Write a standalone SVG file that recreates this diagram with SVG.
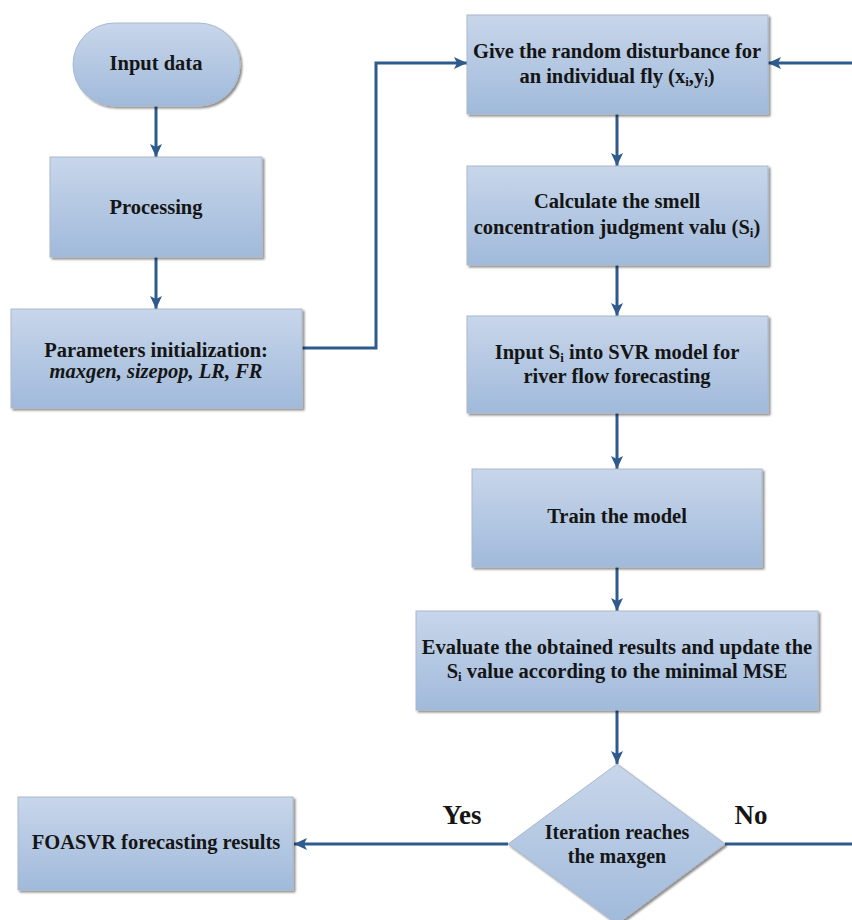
<svg xmlns="http://www.w3.org/2000/svg" width="852" height="920" viewBox="0 0 852 920">
<defs>
<linearGradient id="g" x1="0" y1="0" x2="0" y2="1">
<stop offset="0" stop-color="#c8d6ea"/>
<stop offset="1" stop-color="#a0badb"/>
</linearGradient>
<marker id="ah" markerUnits="userSpaceOnUse" markerWidth="14" markerHeight="14" viewBox="0 0 14 14" refX="13" refY="7" orient="auto">
<path d="M0,1 L13,7 L0,13 L3,7 Z" fill="#2f5a8c"/>
</marker>
<filter id="sh" x="-5%" y="-5%" width="112%" height="115%">
<feGaussianBlur in="SourceAlpha" stdDeviation="1.2"/>
<feOffset dx="2" dy="2" result="b"/>
<feComponentTransfer><feFuncA type="linear" slope="0.45"/></feComponentTransfer>
<feMerge><feMergeNode/><feMergeNode in="SourceGraphic"/></feMerge>
</filter>
</defs>
<style>
.box{fill:url(#g);stroke:#a9b8cc;stroke-width:1;filter:url(#sh)}
.t{font-family:"Liberation Serif","Times New Roman",serif;font-weight:bold;font-size:20.5px;fill:#151515;text-anchor:middle}
.it{font-style:italic}
.lbl{font-size:27px}
.dt{font-size:20px}
.sub{font-size:13px}
.c{fill:none;stroke:#2f5a8c;stroke-width:3;marker-end:url(#ah)}
</style>
<rect width="852" height="920" fill="#ffffff"/>
<g id="connectors">
<path class="c" d="M156,106 V157"/>
<path class="c" d="M156,257 V309"/>
<path class="c" d="M302,348 H376 V63 H467"/>
<path class="c" d="M617,114 V166"/>
<path class="c" d="M617,265 V316"/>
<path class="c" d="M617,413 V469"/>
<path class="c" d="M617,567 V611"/>
<path class="c" d="M617,710 V764"/>
<path class="c" d="M508,844 H294"/>
<path class="c" d="M725,844 H870 V63 H768"/>
<text class="t lbl" x="462" y="824">Yes</text>
<text class="t lbl" x="751" y="824">No</text>
</g>
<g id="input-data">
<rect class="box" x="73" y="23" width="167" height="83" rx="41.5"/>
<text class="t" x="156" y="70">Input data</text>
</g>
<g id="processing">
<rect class="box" x="50" y="157" width="212" height="100"/>
<text class="t" x="156" y="214">Processing</text>
</g>
<g id="parameters">
<rect class="box" x="11" y="309" width="291" height="99"/>
<text class="t" x="156" y="357">Parameters initialization:</text>
<text class="t it" x="156" y="378">maxgen, sizepop, LR, FR</text>
</g>
<g id="disturbance">
<rect class="box" x="467" y="15" width="301" height="99"/>
<text class="t" x="617" y="58">Give the random disturbance for</text>
<text class="t" x="617" y="83">an individual fly (x<tspan class="sub" dy="3">i</tspan><tspan dy="-3">,y</tspan><tspan class="sub" dy="3">i</tspan><tspan dy="-3">)</tspan></text>
</g>
<g id="smell">
<rect class="box" x="467" y="166" width="301" height="99"/>
<text class="t" x="617" y="208">Calculate the smell</text>
<text class="t" x="617" y="234">concentration judgment valu (S<tspan class="sub" dy="3">i</tspan><tspan dy="-3">)</tspan></text>
</g>
<g id="svr">
<rect class="box" x="467" y="316" width="301" height="97"/>
<text class="t" x="617" y="359">Input S<tspan class="sub" dy="3">i</tspan><tspan dy="-3"> into SVR model for</tspan></text>
<text class="t" x="617" y="383">river flow forecasting</text>
</g>
<g id="train">
<rect class="box" x="472" y="469" width="290" height="98"/>
<text class="t" x="617" y="523">Train the model</text>
</g>
<g id="evaluate">
<rect class="box" x="416" y="611" width="402" height="99"/>
<text class="t" x="617" y="654">Evaluate the obtained results and update the</text>
<text class="t" x="617" y="678">S<tspan class="sub" dy="3">i</tspan><tspan dy="-3"> value according to the minimal MSE</tspan></text>
</g>
<g id="decision">
<polygon class="box" points="617,764 725,844 617,924 508,844"/>
<text class="t dt" x="617" y="839">Iteration reaches</text>
<text class="t dt" x="617" y="863">the maxgen</text>
</g>
<g id="results">
<rect class="box" x="18" y="797" width="275" height="93"/>
<text class="t" x="156" y="849">FOASVR forecasting results</text>
</g>
</svg>
